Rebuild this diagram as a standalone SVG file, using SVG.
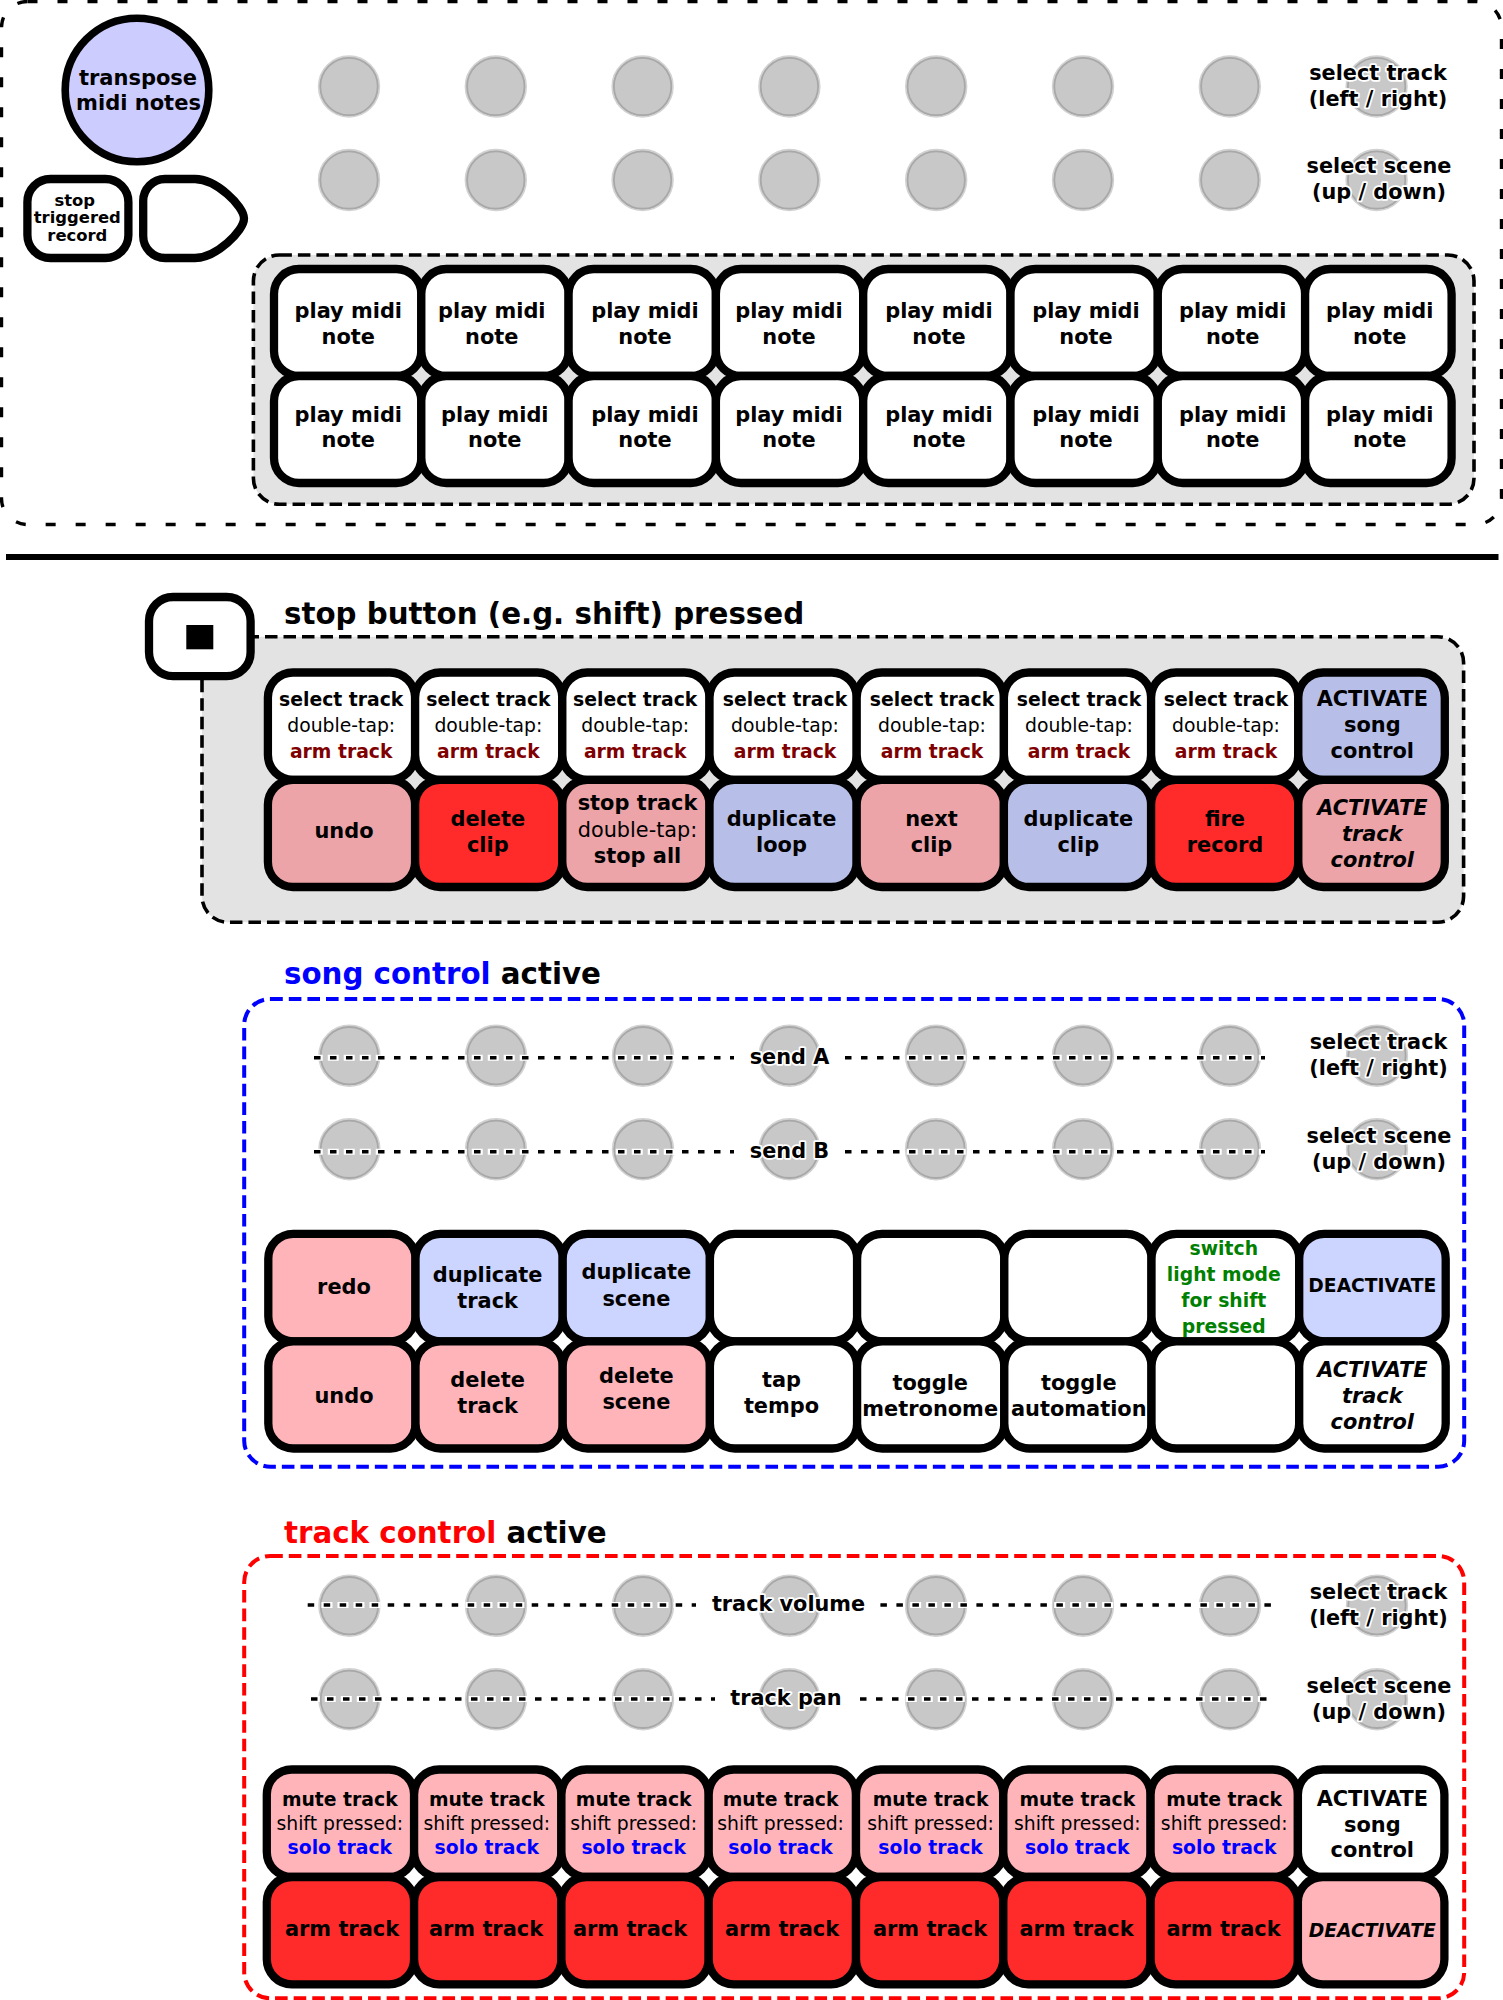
<svg xmlns="http://www.w3.org/2000/svg" width="1503" height="2000" viewBox="0 0 1503 2000">
<style>
text{font-family:"DejaVu Sans","Liberation Sans",sans-serif;text-anchor:middle;fill:#000}
.b{font-weight:700;font-size:20.9px}
.r{font-weight:400;font-size:18.8px}
.s{font-weight:700;font-size:18.8px}
.i{font-weight:700;font-style:italic;font-size:20.9px}
.h{font-weight:700;font-size:20.8px;paint-order:stroke;stroke:#fff;stroke-width:3.5px;stroke-linejoin:round}
.title{font-weight:700;font-size:29.3px;text-anchor:start}
.dr{fill:#800000}.bl{fill:#00f}.gr{fill:#008000}
.pad{stroke:#000;stroke-width:8.3px;fill:#fff}
.w{fill:#fff}.p1{fill:#eca4a8}.p2{fill:#ffb4b9}.c1{fill:#b7bfe8}.c2{fill:#ccd5ff}.rd{fill:#ff2a2a}
.k{fill:#c8c8c8;stroke:#a8a8a8;stroke-width:2.4px}
.kr{fill:none;stroke:#d2d2d2;stroke-width:1.6px}
.dash{fill:none;stroke:#000;stroke-width:3.6px;stroke-dasharray:6.5 9.5}
.halo{fill:none;stroke:#fff;stroke-width:6px;stroke-dasharray:11 5;stroke-dashoffset:2.25}
.fr{fill:none;stroke-width:4px;stroke-dasharray:12.6 6}
</style>
<defs>
<g id="knob"><circle class="k" r="29"/><circle class="kr" r="30.4"/></g>
</defs>

<g id="top-section">
<rect x="1.5" y="1.5" width="1500" height="523" rx="26" fill="#fff" stroke="#000" stroke-width="3.4" stroke-dasharray="10 20"/>
</g>
<g id="transpose"><circle cx="137" cy="90" r="71.8" fill="#ccf" stroke="#000" stroke-width="7.6"/><text class="b" x="138" y="84.5" style="font-size:21px">transpose</text><text class="b" x="138.5" y="109.7" style="font-size:21px">midi notes</text></g>
<g id="stop-triggered"><rect class="pad" x="27.4" y="179" width="101" height="79" rx="23"/><text class="b" x="74.7" y="205.5" style="font-size:16.4px">stop</text><text class="b" x="77.3" y="223" style="font-size:16.4px">triggered</text><text class="b" x="77.3" y="240.5" style="font-size:16.4px">record</text></g>
<g id="play-shape"><path d="M165 179H195C216 179 244 206 244 218.5S216 258 195 258H165A22 22 0 0 1 143.2 236V201A22 22 0 0 1 165 179Z" fill="#fff" stroke="#000" stroke-width="8.3"/></g>
<g id="top-knobs">
<use href="#knob" x="349" y="86.5"/><use href="#knob" x="495.8" y="86.5"/><use href="#knob" x="642.6" y="86.5"/><use href="#knob" x="789.4" y="86.5"/><use href="#knob" x="936.2" y="86.5"/><use href="#knob" x="1083" y="86.5"/><use href="#knob" x="1229.8" y="86.5"/><use href="#knob" x="1376.6" y="86.5"/>
<use href="#knob" x="349" y="180"/><use href="#knob" x="495.8" y="180"/><use href="#knob" x="642.6" y="180"/><use href="#knob" x="789.4" y="180"/><use href="#knob" x="936.2" y="180"/><use href="#knob" x="1083" y="180"/><use href="#knob" x="1229.8" y="180"/><use href="#knob" x="1376.6" y="180"/>
</g>
<g id="top-knob-labels"><text class="h" x="1378" y="80.3">select track</text><text class="h" x="1378" y="106.3">(left / right)</text><text class="h" x="1379" y="172.7">select scene</text><text class="h" x="1379" y="199">(up / down)</text></g>
<g id="pad-panel"><rect x="253.4" y="255" width="1220.6" height="249.3" rx="26" fill="#e3e3e3" stroke="#000" stroke-width="3.6" stroke-dasharray="12.5 6"/></g>
<g id="midi-pads">
<g id="n1"><rect class="pad w" x="274" y="269" width="147.3" height="107" rx="25"/><text class="b" x="348.3" y="318">play midi</text><text class="b" x="348.3" y="344">note</text></g>
<g id="n2"><rect class="pad w" x="421.3" y="269" width="147.3" height="107" rx="25"/><text class="b" x="491.8" y="318">play midi</text><text class="b" x="491.8" y="344">note</text></g>
<g id="n3"><rect class="pad w" x="568.6" y="269" width="147.3" height="107" rx="25"/><text class="b" x="645" y="318">play midi</text><text class="b" x="645" y="344">note</text></g>
<g id="n4"><rect class="pad w" x="715.9" y="269" width="147.3" height="107" rx="25"/><text class="b" x="789" y="318">play midi</text><text class="b" x="789" y="344">note</text></g>
<g id="n5"><rect class="pad w" x="863.2" y="269" width="147.3" height="107" rx="25"/><text class="b" x="939" y="318">play midi</text><text class="b" x="939" y="344">note</text></g>
<g id="n6"><rect class="pad w" x="1010.5" y="269" width="147.3" height="107" rx="25"/><text class="b" x="1086" y="318">play midi</text><text class="b" x="1086" y="344">note</text></g>
<g id="n7"><rect class="pad w" x="1157.8" y="269" width="147.3" height="107" rx="25"/><text class="b" x="1232.7" y="318">play midi</text><text class="b" x="1232.7" y="344">note</text></g>
<g id="n8"><rect class="pad w" x="1305.1" y="269" width="146.5" height="107" rx="25"/><text class="b" x="1379.7" y="318">play midi</text><text class="b" x="1379.7" y="344">note</text></g>
<g id="n9"><rect class="pad w" x="274" y="376" width="147.3" height="107" rx="25"/><text class="b" x="348.3" y="421.5">play midi</text><text class="b" x="348.3" y="447">note</text></g>
<g id="n10"><rect class="pad w" x="421.3" y="376" width="147.3" height="107" rx="25"/><text class="b" x="494.8" y="421.5">play midi</text><text class="b" x="494.8" y="447">note</text></g>
<g id="n11"><rect class="pad w" x="568.6" y="376" width="147.3" height="107" rx="25"/><text class="b" x="645" y="421.5">play midi</text><text class="b" x="645" y="447">note</text></g>
<g id="n12"><rect class="pad w" x="715.9" y="376" width="147.3" height="107" rx="25"/><text class="b" x="789" y="421.5">play midi</text><text class="b" x="789" y="447">note</text></g>
<g id="n13"><rect class="pad w" x="863.2" y="376" width="147.3" height="107" rx="25"/><text class="b" x="939" y="421.5">play midi</text><text class="b" x="939" y="447">note</text></g>
<g id="n14"><rect class="pad w" x="1010.5" y="376" width="147.3" height="107" rx="25"/><text class="b" x="1086" y="421.5">play midi</text><text class="b" x="1086" y="447">note</text></g>
<g id="n15"><rect class="pad w" x="1157.8" y="376" width="147.3" height="107" rx="25"/><text class="b" x="1232.7" y="421.5">play midi</text><text class="b" x="1232.7" y="447">note</text></g>
<g id="n16"><rect class="pad w" x="1305.1" y="376" width="146.5" height="107" rx="25"/><text class="b" x="1379.7" y="421.5">play midi</text><text class="b" x="1379.7" y="447">note</text></g>
</g>
<g id="separator"><rect x="6" y="554" width="1492.5" height="6"/></g>

<g id="shift-panel"><rect x="202" y="636.7" width="1261.6" height="285.6" rx="26" fill="#e3e3e3" stroke="#000" stroke-width="3.6" stroke-dasharray="12.5 6"/></g>
<g id="stop-button"><rect class="pad" x="149" y="597" width="101.6" height="79.2" rx="24"/><rect x="186.3" y="625" width="27" height="24.3"/></g>
<text class="title" x="284" y="624.3">stop button (e.g. shift) pressed</text>
<g id="shift-pads">
<g id="s1"><rect class="pad w" x="267.9" y="672.5" width="147.2" height="107.3" rx="25"/><text class="s" x="341.2" y="706">select track</text><text class="r" x="341.2" y="731.7">double-tap:</text><text class="s dr" x="341.2" y="757.7">arm track</text></g>
<g id="s2"><rect class="pad w" x="415.1" y="672.5" width="147.2" height="107.3" rx="25"/><text class="s" x="488.4" y="706">select track</text><text class="r" x="488.4" y="731.7">double-tap:</text><text class="s dr" x="488.4" y="757.7">arm track</text></g>
<g id="s3"><rect class="pad w" x="562.3" y="672.5" width="147.2" height="107.3" rx="25"/><text class="s" x="635.2" y="706">select track</text><text class="r" x="635.2" y="731.7">double-tap:</text><text class="s dr" x="635.2" y="757.7">arm track</text></g>
<g id="s4"><rect class="pad w" x="709.5" y="672.5" width="147.2" height="107.3" rx="25"/><text class="s" x="785" y="706">select track</text><text class="r" x="785" y="731.7">double-tap:</text><text class="s dr" x="785" y="757.7">arm track</text></g>
<g id="s5"><rect class="pad w" x="856.7" y="672.5" width="147.2" height="107.3" rx="25"/><text class="s" x="932" y="706">select track</text><text class="r" x="932" y="731.7">double-tap:</text><text class="s dr" x="932" y="757.7">arm track</text></g>
<g id="s6"><rect class="pad w" x="1003.9" y="672.5" width="147.2" height="107.3" rx="25"/><text class="s" x="1079" y="706">select track</text><text class="r" x="1079" y="731.7">double-tap:</text><text class="s dr" x="1079" y="757.7">arm track</text></g>
<g id="s7"><rect class="pad w" x="1151.1" y="672.5" width="147.2" height="107.3" rx="25"/><text class="s" x="1226" y="706">select track</text><text class="r" x="1226" y="731.7">double-tap:</text><text class="s dr" x="1226" y="757.7">arm track</text></g>
<g id="s8"><rect class="pad c1" x="1298.3" y="672.5" width="146.5" height="107.3" rx="25"/><text class="b" x="1372.3" y="705.5">ACTIVATE</text><text class="b" x="1372.3" y="731.7">song</text><text class="b" x="1372.3" y="757.7">control</text></g>
<g id="s9"><rect class="pad p1" x="267.9" y="779.8" width="147.2" height="107.2" rx="25"/><text class="b" x="344" y="838.3">undo</text></g>
<g id="s10"><rect class="pad rd" x="415.1" y="779.8" width="147.2" height="107.2" rx="25"/><text class="b" x="487.8" y="825.7">delete</text><text class="b" x="487.8" y="851.7">clip</text></g>
<g id="s11"><rect class="pad p1" x="562.3" y="779.8" width="147.2" height="107.2" rx="25"/><text class="b" x="637.5" y="810">stop track</text><text class="r" x="637.5" y="836.7" style="font-size:20.8px">double-tap:</text><text class="b" x="637.5" y="862.7">stop all</text></g>
<g id="s12"><rect class="pad c1" x="709.5" y="779.8" width="147.2" height="107.2" rx="25"/><text class="b" x="781.5" y="825.7">duplicate</text><text class="b" x="781.5" y="851.7">loop</text></g>
<g id="s13"><rect class="pad p1" x="856.7" y="779.8" width="147.2" height="107.2" rx="25"/><text class="b" x="931.5" y="825.7">next</text><text class="b" x="931.5" y="851.7">clip</text></g>
<g id="s14"><rect class="pad c1" x="1003.9" y="779.8" width="147.2" height="107.2" rx="25"/><text class="b" x="1078.3" y="825.7">duplicate</text><text class="b" x="1078.3" y="851.7">clip</text></g>
<g id="s15"><rect class="pad rd" x="1151.1" y="779.8" width="147.2" height="107.2" rx="25"/><text class="b" x="1225" y="825.7">fire</text><text class="b" x="1225" y="851.7">record</text></g>
<g id="s16"><rect class="pad p1" x="1298.3" y="779.8" width="146.5" height="107.2" rx="25"/><text class="i" x="1372.3" y="815">ACTIVATE</text><text class="i" x="1372.3" y="841">track</text><text class="i" x="1372.3" y="867">control</text></g>
</g>

<text class="title" x="284" y="983.8"><tspan class="bl">song control</tspan> active</text>
<g id="song-panel"><rect class="fr" x="244.2" y="999" width="1220" height="467.7" rx="26" stroke="#00f"/></g>
<g id="song-knobs">
<use href="#knob" x="349.4" y="1055.7"/><use href="#knob" x="496" y="1055.7"/><use href="#knob" x="643" y="1055.7"/><use href="#knob" x="789.5" y="1055.7"/><use href="#knob" x="936" y="1055.7"/><use href="#knob" x="1083" y="1055.7"/><use href="#knob" x="1230" y="1055.7"/><use href="#knob" x="1377" y="1055.7"/>
<use href="#knob" x="349.4" y="1149.3"/><use href="#knob" x="496" y="1149.3"/><use href="#knob" x="643" y="1149.3"/><use href="#knob" x="789.5" y="1149.3"/><use href="#knob" x="936" y="1149.3"/><use href="#knob" x="1083" y="1149.3"/><use href="#knob" x="1230" y="1149.3"/><use href="#knob" x="1377" y="1149.3"/>
</g>
<g id="song-connectors">
<path class="halo" d="M314 1057.7H734M845 1057.7H1265M314 1151.7H734M845 1151.7H1265"/>
<path class="dash" d="M314 1057.7H734M845 1057.7H1265M314 1151.7H734M845 1151.7H1265"/>
</g>
<g id="song-knob-labels"><text class="h" x="789.5" y="1064">send A</text><text class="h" x="789.5" y="1157.7">send B</text><text class="h" x="1378.5" y="1049">select track</text><text class="h" x="1378.5" y="1075">(left / right)</text><text class="h" x="1379" y="1142.7">select scene</text><text class="h" x="1379" y="1169">(up / down)</text></g>
<g id="song-pads">
<g id="g1"><rect class="pad p2" x="268.3" y="1233.8" width="147.2" height="107.5" rx="25"/><text class="b" x="344" y="1294.3">redo</text></g>
<g id="g2"><rect class="pad c2" x="415.5" y="1233.8" width="147.2" height="107.5" rx="25"/><text class="b" x="487.6" y="1281.7">duplicate</text><text class="b" x="487.6" y="1307.7">track</text></g>
<g id="g3"><rect class="pad c2" x="562.7" y="1233.8" width="147.2" height="107.5" rx="25"/><text class="b" x="636.4" y="1279.3">duplicate</text><text class="b" x="636.4" y="1305.7">scene</text></g>
<g id="g4"><rect class="pad w" x="709.9" y="1233.8" width="147.2" height="107.5" rx="25"/></g>
<g id="g5"><rect class="pad w" x="857.1" y="1233.8" width="147.2" height="107.5" rx="25"/></g>
<g id="g6"><rect class="pad w" x="1004.3" y="1233.8" width="147.2" height="107.5" rx="25"/></g>
<g id="g7"><rect class="pad w" x="1151.5" y="1233.8" width="147.7" height="107.5" rx="25"/><text class="s gr" x="1223.8" y="1255">switch</text><text class="s gr" x="1223.8" y="1280.7">light mode</text><text class="s gr" x="1223.8" y="1306.7">for shift</text><text class="s gr" x="1223.8" y="1332.7">pressed</text></g>
<g id="g8"><rect class="pad c2" x="1299.2" y="1233.8" width="146.5" height="107.5" rx="25"/><text class="s" x="1372.3" y="1292.3" style="font-size:18.7px">DEACTIVATE</text></g>
<g id="g9"><rect class="pad p2" x="268.3" y="1341.3" width="147.2" height="107.2" rx="25"/><text class="b" x="344" y="1402.7">undo</text></g>
<g id="g10"><rect class="pad p2" x="415.5" y="1341.3" width="147.2" height="107.2" rx="25"/><text class="b" x="487.6" y="1386.7">delete</text><text class="b" x="487.6" y="1412.7">track</text></g>
<g id="g11"><rect class="pad p2" x="562.7" y="1341.3" width="147.2" height="107.2" rx="25"/><text class="b" x="636.4" y="1383.3">delete</text><text class="b" x="636.4" y="1409.3">scene</text></g>
<g id="g12"><rect class="pad w" x="709.9" y="1341.3" width="147.2" height="107.2" rx="25"/><text class="b" x="781.5" y="1386.7">tap</text><text class="b" x="781.5" y="1412.7">tempo</text></g>
<g id="g13"><rect class="pad w" x="857.1" y="1341.3" width="147.2" height="107.2" rx="25"/><text class="b" x="930.2" y="1390">toggle</text><text class="b" x="930.2" y="1416">metronome</text></g>
<g id="g14"><rect class="pad w" x="1004.3" y="1341.3" width="147.2" height="107.2" rx="25"/><text class="b" x="1078.8" y="1390">toggle</text><text class="b" x="1078.8" y="1416">automation</text></g>
<g id="g15"><rect class="pad w" x="1151.5" y="1341.3" width="147.7" height="107.2" rx="25"/></g>
<g id="g16"><rect class="pad w" x="1299.2" y="1341.3" width="146.5" height="107.2" rx="25"/><text class="i" x="1372.3" y="1377.3">ACTIVATE</text><text class="i" x="1372.3" y="1403.3">track</text><text class="i" x="1372.3" y="1429.3">control</text></g>
</g>

<text class="title" x="284" y="1543.2"><tspan style="fill:#f00">track control</tspan> active</text>
<g id="track-panel"><rect class="fr" x="244.2" y="1556" width="1220" height="442.3" rx="26" stroke="#f00"/></g>
<g id="track-knobs">
<use href="#knob" x="349.4" y="1605.7"/><use href="#knob" x="496" y="1605.7"/><use href="#knob" x="643" y="1605.7"/><use href="#knob" x="789.5" y="1605.7"/><use href="#knob" x="936" y="1605.7"/><use href="#knob" x="1083" y="1605.7"/><use href="#knob" x="1230" y="1605.7"/><use href="#knob" x="1377" y="1605.7"/>
<use href="#knob" x="349.4" y="1699.3"/><use href="#knob" x="496" y="1699.3"/><use href="#knob" x="643" y="1699.3"/><use href="#knob" x="789.5" y="1699.3"/><use href="#knob" x="936" y="1699.3"/><use href="#knob" x="1083" y="1699.3"/><use href="#knob" x="1230" y="1699.3"/><use href="#knob" x="1377" y="1699.3"/>
</g>
<g id="track-connectors">
<path class="halo" d="M307.7 1605H696M880.4 1605H1276M311 1699H715M860 1699H1269"/>
<path class="dash" d="M307.7 1605H696M880.4 1605H1276M311 1699H715M860 1699H1269"/>
</g>
<g id="track-knob-labels"><text class="h" x="788.5" y="1610.7">track volume</text><text class="h" x="786" y="1705">track pan</text><text class="h" x="1378.5" y="1599">select track</text><text class="h" x="1378.5" y="1625">(left / right)</text><text class="h" x="1379" y="1692.7">select scene</text><text class="h" x="1379" y="1719">(up / down)</text></g>
<g id="track-pads">
<g id="t1"><rect class="pad p2" x="266.8" y="1769.5" width="147.3" height="107.5" rx="25"/><text class="s" x="339.8" y="1806">mute track</text><text class="r" x="339.8" y="1830">shift pressed:</text><text class="s bl" x="339.8" y="1854.3">solo track</text></g>
<g id="t2"><rect class="pad p2" x="414.1" y="1769.5" width="147.3" height="107.5" rx="25"/><text class="s" x="486.8" y="1806">mute track</text><text class="r" x="486.8" y="1830">shift pressed:</text><text class="s bl" x="486.8" y="1854.3">solo track</text></g>
<g id="t3"><rect class="pad p2" x="561.4" y="1769.5" width="147.3" height="107.5" rx="25"/><text class="s" x="633.7" y="1806">mute track</text><text class="r" x="633.7" y="1830">shift pressed:</text><text class="s bl" x="633.7" y="1854.3">solo track</text></g>
<g id="t4"><rect class="pad p2" x="708.7" y="1769.5" width="147.3" height="107.5" rx="25"/><text class="s" x="780.6" y="1806">mute track</text><text class="r" x="780.6" y="1830">shift pressed:</text><text class="s bl" x="780.6" y="1854.3">solo track</text></g>
<g id="t5"><rect class="pad p2" x="856" y="1769.5" width="147.3" height="107.5" rx="25"/><text class="s" x="930.6" y="1806">mute track</text><text class="r" x="930.6" y="1830">shift pressed:</text><text class="s bl" x="930.6" y="1854.3">solo track</text></g>
<g id="t6"><rect class="pad p2" x="1003.3" y="1769.5" width="147.3" height="107.5" rx="25"/><text class="s" x="1077.3" y="1806">mute track</text><text class="r" x="1077.3" y="1830">shift pressed:</text><text class="s bl" x="1077.3" y="1854.3">solo track</text></g>
<g id="t7"><rect class="pad p2" x="1150.6" y="1769.5" width="147.3" height="107.5" rx="25"/><text class="s" x="1224.2" y="1806">mute track</text><text class="r" x="1224.2" y="1830">shift pressed:</text><text class="s bl" x="1224.2" y="1854.3">solo track</text></g>
<g id="t8"><rect class="pad w" x="1297.9" y="1769.5" width="146.5" height="107.5" rx="25"/><text class="b" x="1372.3" y="1805.5">ACTIVATE</text><text class="b" x="1372.3" y="1831.7">song</text><text class="b" x="1372.3" y="1857.3">control</text></g>
<g id="t9"><rect class="pad rd" x="266.8" y="1877" width="147.3" height="107.3" rx="25"/><text class="b" x="342" y="1936">arm track</text></g>
<g id="t10"><rect class="pad rd" x="414.1" y="1877" width="147.3" height="107.3" rx="25"/><text class="b" x="486" y="1936">arm track</text></g>
<g id="t11"><rect class="pad rd" x="561.4" y="1877" width="147.3" height="107.3" rx="25"/><text class="b" x="630" y="1936">arm track</text></g>
<g id="t12"><rect class="pad rd" x="708.7" y="1877" width="147.3" height="107.3" rx="25"/><text class="b" x="782" y="1936">arm track</text></g>
<g id="t13"><rect class="pad rd" x="856" y="1877" width="147.3" height="107.3" rx="25"/><text class="b" x="930" y="1936">arm track</text></g>
<g id="t14"><rect class="pad rd" x="1003.3" y="1877" width="147.3" height="107.3" rx="25"/><text class="b" x="1076.5" y="1936">arm track</text></g>
<g id="t15"><rect class="pad rd" x="1150.6" y="1877" width="147.3" height="107.3" rx="25"/><text class="b" x="1223.5" y="1936">arm track</text></g>
<g id="t16"><rect class="pad p2" x="1297.9" y="1877" width="146.5" height="107.3" rx="25"/><text class="i" x="1372.3" y="1936.7" style="font-size:18.7px">DEACTIVATE</text></g>
</g>
</svg>
